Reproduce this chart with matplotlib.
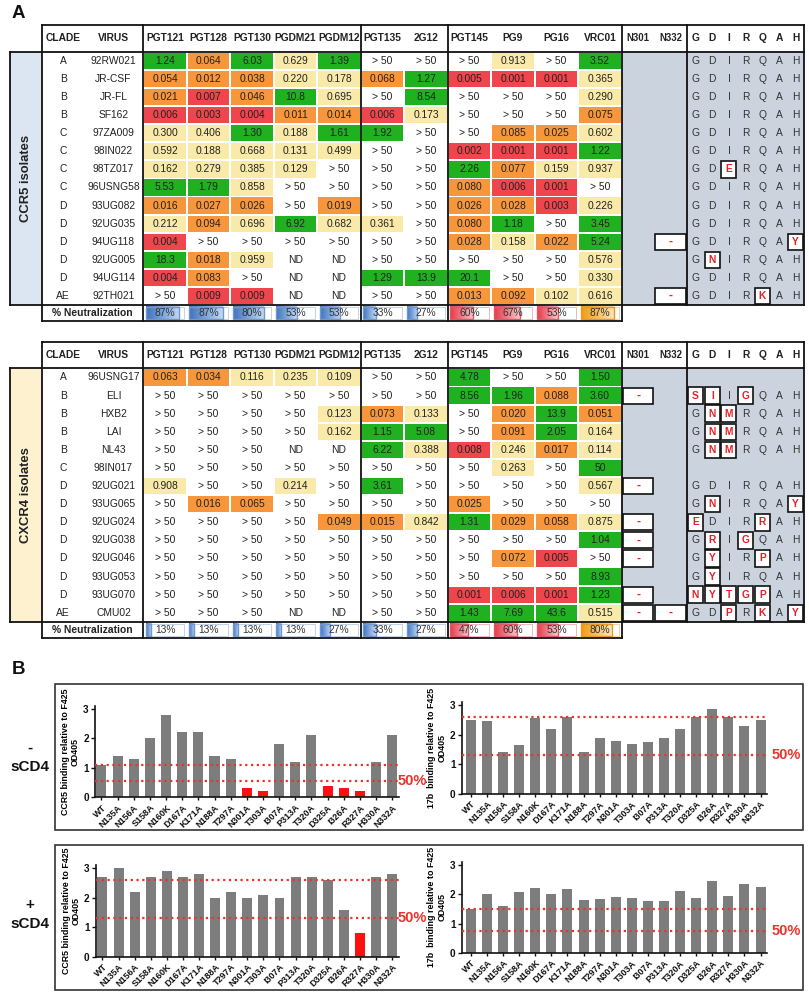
import numpy as np
import matplotlib
matplotlib.use('Agg')
import matplotlib.pyplot as plt
from matplotlib.patches import Rectangle
from matplotlib.colors import LinearSegmentedColormap

plt.rcParams['font.family'] = ['Liberation Sans', 'DejaVu Sans']

# ---------------- DATA ----------------
antibodies = ['PGT121', 'PGT128', 'PGT130', 'PGDM21', 'PGDM12', 'PGT135', '2G12',
              'PGT145', 'PG9', 'PG16', 'VRC01']
consensus = 'GDIRQAH'
G = '> 50'

ccr5_clades = ['A', 'B', 'B', 'B', 'C', 'C', 'C', 'C', 'D', 'D', 'D', 'D', 'D', 'AE']
ccr5_viruses = ['92RW021', 'JR-CSF', 'JR-FL', 'SF162', '97ZA009', '98IN022', '98TZ017',
                '96USNG58', '93UG082', '92UG035', '94UG118', '92UG005', '94UG114', '92TH021']
ccr5_ic50 = [
    ['1.24', '0.064', '6.03', '0.629', '1.39', G, G, G, '0.913', G, '3.52'],
    ['0.054', '0.012', '0.038', '0.220', '0.178', '0.068', '1.27', '0.005', '0.001', '0.001', '0.365'],
    ['0.021', '0.007', '0.046', '10.8', '0.695', G, '8.54', G, G, G, '0.290'],
    ['0.006', '0.003', '0.004', '0.011', '0.014', '0.006', '0.173', G, G, G, '0.075'],
    ['0.300', '0.406', '1.30', '0.188', '1.61', '1.92', G, G, '0.085', '0.025', '0.602'],
    ['0.592', '0.188', '0.668', '0.131', '0.499', G, G, '0.002', '0.001', '0.001', '1.22'],
    ['0.162', '0.279', '0.385', '0.129', G, G, G, '2.26', '0.077', '0.159', '0.937'],
    ['5.53', '1.79', '0.858', G, G, G, G, '0.080', '0.006', '0.001', G],
    ['0.016', '0.027', '0.026', G, '0.019', G, G, '0.026', '0.028', '0.003', '0.226'],
    ['0.212', '0.094', '0.696', '6.92', '0.682', '0.361', G, '0.080', '1.18', G, '3.45'],
    ['0.004', G, G, G, G, G, G, '0.028', '0.158', '0.022', '5.24'],
    ['18.3', '0.018', '0.959', 'ND', 'ND', G, G, G, G, G, '0.576'],
    ['0.004', '0.083', G, 'ND', 'ND', '1.29', '13.9', '20.1', G, G, '0.330'],
    [G, '0.009', '0.009', 'ND', 'ND', G, G, '0.013', '0.092', '0.102', '0.616'],
]
ccr5_n301 = [''] * 14
ccr5_n332 = ['', '', '', '', '', '', '', '', '', '', '-', '', '', '-']
ccr5_aa = ['GDIRQAH', 'GDIRQAH', 'GDIRQAH', 'GDIRQAH', 'GDIRQAH', 'GDIRQAH', 'GDERQAH',
           'GDIRQAH', 'GDIRQAH', 'GDIRQAH', 'GDIRQAY', 'GNIRQAH', 'GDIRQAH', 'GDIRKAH']
ccr5_neut = [87, 87, 80, 53, 53, 33, 27, 60, 67, 53, 87]

cxcr4_clades = ['A', 'B', 'B', 'B', 'B', 'C', 'D', 'D', 'D', 'D', 'D', 'D', 'D', 'AE']
cxcr4_viruses = ['96USNG17', 'ELI', 'HXB2', 'LAI', 'NL43', '98IN017', '92UG021', '93UG065',
                 '92UG024', '92UG038', '92UG046', '93UG053', '93UG070', 'CMU02']
cxcr4_ic50 = [
    ['0.063', '0.034', '0.116', '0.235', '0.109', G, G, '4.78', G, G, '1.50'],
    [G, G, G, G, G, G, G, '8.56', '1.96', '0.088', '3.60'],
    [G, G, G, G, '0.123', '0.073', '0.133', G, '0.020', '13.9', '0.051'],
    [G, G, G, G, '0.162', '1.15', '5.08', G, '0.091', '2.05', '0.164'],
    [G, G, G, 'ND', 'ND', '6.22', '0.388', '0.008', '0.246', '0.017', '0.114'],
    [G, G, G, G, G, G, G, G, '0.263', G, '50'],
    ['0.908', G, G, '0.214', G, '3.61', G, G, G, G, '0.567'],
    [G, '0.016', '0.065', G, G, G, G, '0.025', G, G, G],
    [G, G, G, G, '0.049', '0.015', '0.842', '1.31', '0.029', '0.058', '0.875'],
    [G, G, G, G, G, G, G, G, G, G, '1.04'],
    [G, G, G, G, G, G, G, G, '0.072', '0.005', G],
    [G, G, G, G, G, G, G, G, G, G, '8.93'],
    [G, G, G, G, G, G, G, '0.001', '0.006', '0.001', '1.23'],
    [G, G, G, 'ND', 'ND', G, G, '1.43', '7.69', '43.6', '0.515'],
]
cxcr4_n301 = ['', '-', '', '', '', '', '-', '', '-', '-', '-', '', '-', '-']
cxcr4_n332 = [''] * 13 + ['-']
cxcr4_aa = ['', 'SIIGQAH', 'GNMRQAH', 'GNMRQAH', 'GNMRQAH', '', 'GDIRQAH', 'GNIRQAY',
            'EDIRRAH', 'GRIGQAH', 'GYIRPAH', 'GYIRQAH', 'NYTGPAH', 'GDPRKAY']
cxcr4_neut = [13, 13, 13, 13, 27, 33, 27, 47, 60, 53, 80]
neut_style = ['blue'] * 7 + ['red'] * 3 + ['orange']

mutants = ['WT', 'N135A', 'N156A', 'S158A', 'N160K', 'D167A', 'K171A', 'N188A', 'T297A',
           'N301A', 'T303A', 'I307A', 'P313A', 'T320A', 'D325A', 'I326A', 'R327A',
           'H330A', 'N332A']
ccr5_minus = [1.1, 1.4, 1.3, 2.0, 2.8, 2.2, 2.2, 1.4, 1.3, 0.3, 0.2, 1.8, 1.2, 2.1,
              0.4, 0.3, 0.2, 1.2, 2.1]
b17_minus = [2.5, 2.45, 1.4, 1.65, 2.55, 2.2, 2.6, 1.4, 1.9, 1.8, 1.7, 1.75, 1.9, 2.2,
             2.6, 2.85, 2.6, 2.3, 2.5]
ccr5_plus = [2.7, 3.0, 2.2, 2.7, 2.9, 2.7, 2.8, 2.0, 2.2, 2.0, 2.1, 2.0, 2.7, 2.7,
             2.6, 1.6, 0.8, 2.7, 2.8]
b17_plus = [1.5, 2.02, 1.6, 2.08, 2.2, 2.0, 2.17, 1.8, 1.85, 1.9, 1.87, 1.77, 1.78, 2.1,
            1.87, 2.45, 1.95, 2.33, 2.25]
ref_levels = [1.1, 2.6, 2.6, 1.5]   # WT reference (100%) per panel

# ---------------- STYLE / LAYOUT ----------------
W, H = 809, 994
C_GREEN, C_ORANGE, C_RED, C_YELLOW = '#1fb11f', '#f7963a', '#ee464c', '#f9eaa9'
C_GRAYBG = '#cbd3df'
TXT = '#222222'
LW = 1.3

X_LAB0, X_LAB1 = 10, 41.7
X_CLADE, X_VIRUS = 63.3, 113.5
X_AB0, AB_W = 143.3, 43.5
X_GLY = [621.8, 654.5, 687.2]
X_AA0, AA_W = 687.2, 16.7
X_END = X_AA0 + 7 * AA_W
HDR_H, ROW_H, NEUT_H = 26.7, 18.1, 16.0
FS = 7.4


def cell_color(s):
    if s.startswith('>') or s == 'ND':
        return None
    v = float(s)
    if v < 0.01:
        return C_RED
    if v < 0.1:
        return C_ORANGE
    if v < 1:
        return C_YELLOW
    return C_GREEN


grad = {
    'blue': (['#3f72bd', '#7ea5da', '#c6d8f0'], '#6f98d2'),
    'red': (['#e43a48', '#ef7d88', '#f9c8cd'], '#df5866'),
    'orange': (['#f39a12', '#f7c062', '#fce6bd'], '#e39a2a'),
}

fig = plt.figure(figsize=(W / 100, H / 100), dpi=100)
ov = fig.add_axes([0, 0, 1, 1])
ov.axis('off')


def hline(y, x0, x1):
    ov.plot([x0, x1], [y, y], color='#111111', lw=LW, solid_capstyle='projecting', zorder=5)


def vline(x, y0, y1):
    ov.plot([x, x], [y0, y1], color='#111111', lw=LW, solid_capstyle='projecting', zorder=5)


def draw_table(y_top, label, label_bg, clades, viruses, ic50, n301, n332, aa, neut):
    y_b0 = y_top + HDR_H
    n = len(viruses)
    y_b1 = y_b0 + n * ROW_H
    y_n1 = y_b1 + NEUT_H
    ov.add_patch(Rectangle((X_LAB0, y_b0), X_LAB1 - X_LAB0, y_b1 - y_b0, fc=label_bg,
                           ec='none', zorder=1))
    ov.text((X_LAB0 + X_LAB1) / 2, (y_b0 + y_b1) / 2, label, rotation=90, ha='center',
            va='center', fontsize=9.4, fontweight='bold', color=TXT, zorder=6)
    ov.add_patch(Rectangle((X_GLY[0], y_b0), X_END - X_GLY[0], y_b1 - y_b0, fc=C_GRAYBG,
                           ec='none', zorder=1))
    hy = y_top + HDR_H / 2
    ov.text(X_CLADE, hy, 'CLADE', ha='center', va='center', fontsize=FS, fontweight='bold', color=TXT)
    ov.text(X_VIRUS, hy, 'VIRUS', ha='center', va='center', fontsize=FS, fontweight='bold', color=TXT)
    for c, ab in enumerate(antibodies):
        ov.text(X_AB0 + (c + 0.5) * AB_W, hy, ab, ha='center', va='center', fontsize=FS,
                fontweight='bold', color=TXT)
    for k, g in enumerate(['N301', 'N332']):
        ov.text((X_GLY[k] + X_GLY[k + 1]) / 2, hy, g, ha='center', va='center', fontsize=6.9,
                fontweight='bold', color=TXT)
    for j, ch in enumerate(consensus):
        ov.text(X_AA0 + (j + 0.5) * AA_W, hy, ch, ha='center', va='center', fontsize=FS,
                fontweight='bold', color=TXT)
    for r in range(n):
        y0 = y_b0 + r * ROW_H
        yc = y0 + ROW_H / 2
        ov.text(X_CLADE, yc, clades[r], ha='center', va='center', fontsize=FS, color=TXT)
        ov.text(X_VIRUS, yc, viruses[r], ha='center', va='center', fontsize=FS, color=TXT)
        for c, s in enumerate(ic50[r]):
            x0 = X_AB0 + c * AB_W
            col = cell_color(s)
            if col:
                ov.add_patch(Rectangle((x0 + 0.9, y0 + 0.9), AB_W - 1.8, ROW_H - 1.8,
                                       fc=col, ec='none', zorder=2))
            ov.text(x0 + AB_W / 2, yc, s, ha='center', va='center', fontsize=FS,
                    color=TXT, zorder=3)
        for k, mark in enumerate([n301[r], n332[r]]):
            if mark:
                xa, xb = X_GLY[k], X_GLY[k + 1]
                ov.add_patch(Rectangle((xa + 1, y0 + 1), xb - xa - 2, ROW_H - 2, fc='white',
                                       ec='#111111', lw=1.2, zorder=3))
                ov.text((xa + xb) / 2, yc, mark, ha='center', va='center', fontsize=8.5,
                        fontweight='bold', color='#e52228', zorder=4)
        seq = aa[r]
        for j, ch in enumerate(seq):
            x0 = X_AA0 + j * AA_W
            if ch != consensus[j]:
                ov.add_patch(Rectangle((x0 + 0.8, y0 + 0.8), AA_W - 1.6, ROW_H - 1.6,
                                       fc='white', ec='#111111', lw=1.2, zorder=3))
                ov.text(x0 + AA_W / 2, yc, ch, ha='center', va='center', fontsize=FS,
                        fontweight='bold', color='#e52228', zorder=4)
            else:
                ov.text(x0 + AA_W / 2, yc, ch, ha='center', va='center', fontsize=FS,
                        color='#333333', zorder=4)
    ny = y_b1 + NEUT_H / 2
    ov.text((X_LAB1 + X_AB0) / 2, ny, '% Neutralization', ha='center', va='center',
            fontsize=FS, fontweight='bold', color=TXT)
    for c, p in enumerate(neut):
        x0 = X_AB0 + c * AB_W + 2.5
        w = AB_W - 5
        y0 = y_b1 + 1.8
        h = NEUT_H - 3.6
        cols, ec = grad[neut_style[c]]
        cmap = LinearSegmentedColormap.from_list('g', cols)
        ov.imshow(np.linspace(0, 1, 64).reshape(1, -1), cmap=cmap, aspect='auto',
                  extent=(x0, x0 + w * p / 100.0, y0 + h, y0), zorder=2,
                  interpolation='bilinear')
        ov.add_patch(Rectangle((x0, y0), w * p / 100.0, h, fc='none', ec=ec, lw=1.0, zorder=3))
        ov.add_patch(Rectangle((x0, y0), w, h, fc='none', ec=ec, lw=0.6, alpha=0.5, zorder=3))
        ov.text(x0 + w / 2, ny, f'{p}%', ha='center', va='center', fontsize=FS,
                color='#333333', zorder=4)
    hline(y_top, X_LAB1, X_END)
    hline(y_b0, X_LAB0, X_END)
    hline(y_b1, X_LAB0, X_END)
    hline(y_n1, X_LAB1, X_GLY[0])
    vline(X_LAB0, y_b0, y_b1)
    vline(X_LAB1, y_top, y_n1)
    for xv in [X_AB0, X_AB0 + 5 * AB_W, X_AB0 + 7 * AB_W, X_GLY[0]]:
        vline(xv, y_top, y_n1)
    vline(X_GLY[2], y_top, y_b1)
    vline(X_END, y_top, y_b1)


draw_table(25.0, 'CCR5 isolates', '#dce6f2', ccr5_clades, ccr5_viruses, ccr5_ic50,
           ccr5_n301, ccr5_n332, ccr5_aa, ccr5_neut)
draw_table(341.7, 'CXCR4 isolates', '#fdf1cf', cxcr4_clades, cxcr4_viruses, cxcr4_ic50,
           cxcr4_n301, cxcr4_n332, cxcr4_aa, cxcr4_neut)

ov.text(18.5, 14, 'A', ha='center', va='center', fontsize=13.5, fontweight='bold', color='#111')
ov.text(18.5, 669, 'B', ha='center', va='center', fontsize=13.5, fontweight='bold', color='#111')

for (y0, y1) in [(684, 830), (845, 990)]:
    ov.add_patch(Rectangle((55, y0), 803 - 55, y1 - y0, fc='none', ec='#333333', lw=1.2, zorder=5))
ov.text(30, 748, '-', ha='center', va='center', fontsize=11, fontweight='bold', color='#111')
ov.text(30, 767, 'sCD4', ha='center', va='center', fontsize=11, fontweight='bold', color='#111')
ov.text(30, 905, '+', ha='center', va='center', fontsize=11, fontweight='bold', color='#111')
ov.text(30, 924, 'sCD4', ha='center', va='center', fontsize=11, fontweight='bold', color='#111')

ov.set_xlim(0, W)
ov.set_ylim(H, 0)

# ---------------- BAR CHARTS ----------------
panels = [
    (ccr5_minus, 'CCR5 binding relative to F425\nOD405', 95.0, 398.6, 797.3, 29.5, -0.4, 412),
    (b17_minus, '17b  binding relative to F425\nOD405', 461.7, 767.0, 794.0, 29.7, -0.57, 786),
    (ccr5_plus, 'CCR5 binding relative to F425\nOD405', 96.0, 398.6, 956.7, 29.5, -0.4, 412),
    (b17_plus, '17b  binding relative to F425\nOD405', 461.7, 767.0, 953.0, 29.4, -0.57, 786),
]
YTOP = 3.1
x = np.arange(len(mutants))
for k, (vals, ylab, px0, px1, pyz, ppu, xl, lab_x) in enumerate(panels):
    ref = ref_levels[k]
    half = ref / 2
    ytop_px = pyz - YTOP * ppu
    ax = fig.add_axes([px0 / W, 1 - pyz / H, (px1 - px0) / W, (pyz - ytop_px) / H])
    ax.patch.set_alpha(0)
    vals = np.array(vals)
    colors = ['#ff1010' if v < half else '#7d7d7d' for v in vals]
    ax.bar(x, vals, width=0.62, color=colors, edgecolor='none', zorder=2)
    ax.axhline(ref, color='#e8342c', ls=(0, (1, 1.6)), lw=1.6, zorder=3, clip_on=False)
    ax.axhline(half, color='#e8342c', ls=(0, (1, 1.6)), lw=1.6, zorder=3, clip_on=False)
    ax.set_xlim(xl, len(mutants) - 0.6)
    ax.set_ylim(0, YTOP)
    ax.set_yticks([0, 1, 2, 3])
    ax.set_xticks(x)
    ax.set_xticklabels(mutants, rotation=45, ha='right', rotation_mode='anchor',
                       fontsize=6.5, fontweight='bold')
    for t in ax.get_yticklabels():
        t.set_fontsize(7.2)
        t.set_fontweight('bold')
    ax.tick_params(axis='both', length=3, width=1, pad=1.5, colors='#111')
    ax.tick_params(axis='x', length=2.5)
    for s in ['top', 'right']:
        ax.spines[s].set_visible(False)
    for s in ['left', 'bottom']:
        ax.spines[s].set_linewidth(1.2)
        ax.spines[s].set_color('#111')
    ax.set_ylabel(ylab, fontsize=6.4, fontweight='bold', labelpad=2.5, linespacing=1.15)
    lab_y_px = pyz - half * ppu
    ov.text(lab_x, lab_y_px, '50%', ha='center', va='center', fontsize=10.5,
            fontweight='bold', color='#e8342c')

fig.savefig('out.png', dpi=100)
